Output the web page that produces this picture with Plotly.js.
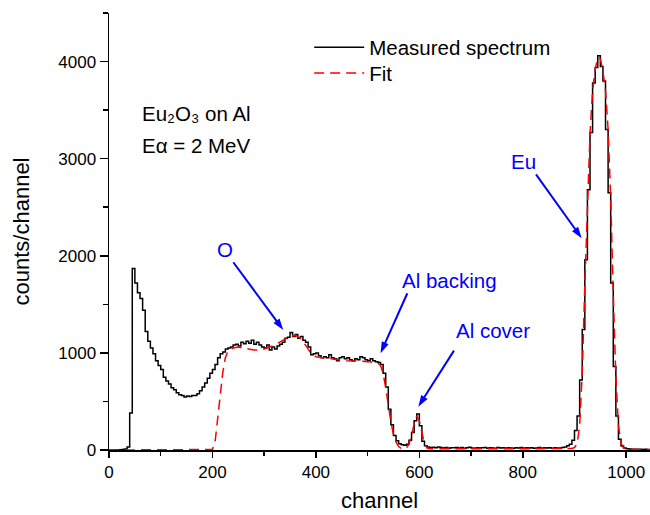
<!DOCTYPE html>
<html>
<head>
<meta charset="utf-8">
<script src="https://cdn.plot.ly/plotly-3.0.1.min.js"></script>
<style>html,body{margin:0;padding:0;background:#fff;}#chart{width:650px;height:515px;}</style>
</head>
<body>
<div id="chart"></div>
<script>
// Measured spectrum: counts per 5-channel bin, starting at channel 0
var measuredStart = 0;
var measuredStep = 5;
var measuredCounts = [
  0, 0, 0, 0, 2,
  5, 10, 30, 380, 1870, 1720, 1620, 1560, 1440, 1220,
  1120, 1050, 990, 920, 870, 830, 750, 710, 680, 640,
  620, 590, 570, 560, 545, 555, 550, 560, 560, 580,
  610, 650, 690, 740, 790, 830, 880, 950, 990, 1010,
  1040, 1050, 1060, 1080, 1090, 1070, 1110, 1095, 1120, 1100,
  1130, 1090, 1110, 1080, 1060, 1050, 1080, 1030, 1060, 1040,
  1070, 1090, 1110, 1150, 1160, 1210, 1170, 1190, 1150, 1170,
  1130, 1110, 1060, 980, 990, 1000, 970, 950, 960, 950,
  980, 950, 940, 920, 950, 960, 940, 950, 930, 920,
  940, 930, 960, 950, 930, 920, 940, 920, 910, 900,
  880, 790, 650, 420, 260, 150, 95, 65, 55, 50,
  60, 100, 180, 300, 370, 250, 90, 45, 30, 25,
  28, 22, 30, 25, 20, 26, 18, 24, 22, 27,
  20, 25, 19, 23, 28, 21, 18, 24, 20, 22,
  26, 19, 23, 21, 17, 25, 20, 22, 18, 24,
  21, 19, 23, 20, 26, 18, 22, 20, 24, 19,
  21, 25, 18, 23, 20, 22, 19, 24, 21, 20,
  25, 30, 45, 60, 100, 200, 350, 720, 1240, 1960,
  2680, 3270, 3780, 3940, 4060, 3950, 3800, 3300, 2650, 1720,
  860, 350, 110, 40, 20, 12, 10, 8, 9, 7,
  8, 6, 7, 5, 6
];

// Fit curve
var fitChannels = [0, 195, 200, 205, 210, 215, 220, 225, 230, 240, 250, 260, 270, 280, 290, 300,
  310, 320, 330, 340, 350, 360, 370, 380, 390, 400, 410, 420, 430, 440, 450, 460, 470, 480, 490,
  500, 510, 520, 525, 530, 535, 540, 545, 550, 555, 560, 565, 570, 575, 580, 585, 590, 595, 600,
  605, 610, 615, 620, 700, 800, 880, 895, 900, 905, 910, 915, 920, 925, 930, 935, 940, 945, 950,
  955, 960, 965, 970, 975, 980, 985, 990, 995, 1000, 1050];
var fitCounts = [0, 0, 5, 80, 300, 550, 800, 950, 1020, 1050, 1060, 1050, 1040, 1030, 1030, 1040,
  1060, 1080, 1110, 1140, 1170, 1180, 1150, 1080, 1000, 960, 950, 945, 940, 930, 925, 920, 920, 915, 915,
  910, 905, 895, 870, 790, 640, 460, 290, 160, 80, 35, 15, 10, 20, 60, 150, 270, 350, 300,
  160, 60, 20, 12, 12, 12, 12, 15, 25, 60, 250, 800, 1700, 2600, 3250, 3700, 3920, 4040, 4030,
  3900, 3700, 3300, 2600, 1600, 750, 250, 70, 20, 8, 5];

var seriesNames = ["Measured spectrum", "Fit"];

// Peak labels (channel, counts of the text centre)
var peakLabels = ["O", "Al backing", "Al cover", "Eu"];
var labelChannels = [223.5, 659, 742, 802];
var labelCounts = [2060, 1744, 1229, 2969];
// Arrows: tail and tip (channel, counts)
var arrowTailChannels = [240.3, 576.8, 667, 825.6];
var arrowTailCounts = [1933, 1614, 1023, 2839];
var arrowTipChannels = [337, 525, 598, 914];
var arrowTipCounts = [1236, 996, 446, 2180];

var infoLines = ["Eu\u2082O\u2083 on Al", "E\u03b1 = 2 MeV"];

var FONT = "Liberation Sans, Arial, sans-serif";

var traces = [
  {
    type: "scatter", mode: "lines", name: seriesNames[0], legend: "legend",
    x0: measuredStart, dx: measuredStep, y: measuredCounts,
    line: {color: "#000000", width: 1.5, shape: "hv"}
  },
  {
    type: "scatter", mode: "lines", name: seriesNames[1], legend: "legend2",
    x: fitChannels, y: fitCounts,
    line: {color: "#FF0000", width: 1.5, dash: "10px,6px"}
  }
];

for (var k = 0; k < arrowTipChannels.length; k++) {
  traces.push({
    type: "scatter", mode: "lines+markers", showlegend: false, hoverinfo: "skip",
    x: [arrowTailChannels[k], arrowTipChannels[k]],
    y: [arrowTailCounts[k], arrowTipCounts[k]],
    line: {color: "#0000FF", width: 2},
    marker: {symbol: "arrow", size: 12, angleref: "previous", color: "#0000FF", line: {width: 0}},
    cliponaxis: false
  });
}

var annotations = [];
for (var i = 0; i < peakLabels.length; i++) {
  annotations.push({
    xref: "x", yref: "y", x: labelChannels[i], y: labelCounts[i],
    text: peakLabels[i], showarrow: false,
    font: {family: FONT, size: 20.5, color: "#0000FF"},
    xanchor: "center", yanchor: "middle"
  });
}
annotations.push({
  xref: "paper", yref: "paper", x: 0.0573, y: 0.771, xanchor: "left", yanchor: "middle",
  text: infoLines[0], showarrow: false, font: {family: FONT, size: 20.5, color: "#000"}
});
annotations.push({
  xref: "paper", yref: "paper", x: 0.0573, y: 0.696, xanchor: "left", yanchor: "middle",
  text: infoLines[1], showarrow: false, font: {family: FONT, size: 20.5, color: "#000"}
});

var axisCommon = {
  showline: true, linecolor: "#000", linewidth: 1.5, mirror: false,
  showgrid: false, zeroline: false,
  ticks: "outside", tickcolor: "#000", tickwidth: 1.5,
  tickfont: {family: FONT, size: 17, color: "#000"}
};

var legendCommon = {
  xanchor: "left", yanchor: "top",
  bgcolor: "rgba(0,0,0,0)", borderwidth: 0,
  font: {family: FONT, size: 20.5, color: "#000"},
  itemwidth: 50
};

var layout = {
  width: 650, height: 515,
  margin: {l: 109, r: 0, t: 13, b: 65, pad: 0},
  paper_bgcolor: "#fff", plot_bgcolor: "#fff",
  font: {family: FONT, color: "#000"},
  showlegend: true,
  legend: Object.assign({}, legendCommon, {x: 0.37, y: 0.967}),
  legend2: Object.assign({}, legendCommon, {x: 0.37, y: 0.908}),
  xaxis: Object.assign({}, axisCommon, {
    range: [0, 1046], tick0: 0, dtick: 200, ticklen: 6,
    minor: {dtick: 100, ticks: "outside", ticklen: 4, tickwidth: 1.5, tickcolor: "#000"},
    title: {text: "channel", font: {family: FONT, size: 22, color: "#000"}, standoff: 11}
  }),
  yaxis: Object.assign({}, axisCommon, {
    range: [0, 4500], tick0: 0, dtick: 1000, ticklen: 8,
    minor: {dtick: 500, ticks: "outside", ticklen: 5, tickwidth: 1.5, tickcolor: "#000"},
    title: {text: "counts/channel", font: {family: FONT, size: 22, color: "#000"}, standoff: 22}
  }),
  annotations: annotations
};

Plotly.newPlot("chart", traces, layout, {displayModeBar: false, staticPlot: true});
</script>
</body>
</html>
